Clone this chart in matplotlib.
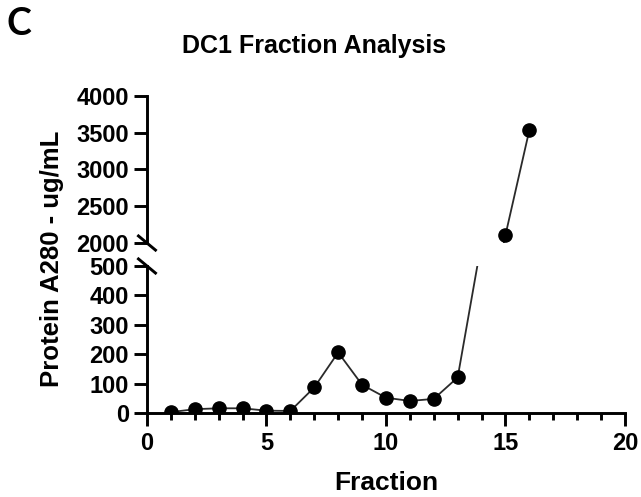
import numpy as np
import matplotlib.pyplot as plt
from matplotlib.lines import Line2D

# fraction number vs. protein concentration (A280, ug/mL)
fractions = [1, 2, 3, 4, 5, 6, 7, 8, 9, 10, 11, 12, 13, 14, 15, 16]
protein = [3, 13, 16, 16, 8, 7, 87, 206, 96, 52, 41, 48, 121, 582, 2109, 3537]

low_ticks = [0, 100, 200, 300, 400, 500]
high_ticks = [2000, 2500, 3000, 3500, 4000]
x_ticks = [0, 5, 10, 15, 20]

plt.rcParams['font.family'] = ['Liberation Sans', 'DejaVu Sans']
plt.rcParams['font.weight'] = 'bold'

fig = plt.figure(figsize=(6.41, 4.97), dpi=100)
ax_lo = fig.add_axes([0.2293, 0.169, 0.7457, 0.2958])
ax_hi = fig.add_axes([0.2293, 0.511, 0.7457, 0.296])

for ax in (ax_lo, ax_hi):
    ax.plot(fractions, protein, color='#2a2a2a', lw=1.3, marker='o', ms=9.5,
            mfc='black', mec='black', zorder=3)
    ax.set_xlim(0, 20)
    for s in ('top', 'right'):
        ax.spines[s].set_visible(False)
    ax.spines['left'].set_linewidth(2.1)
    ax.spines['bottom'].set_linewidth(2.1)
    ax.tick_params(axis='y', length=9.5, width=2.1, pad=3.5, labelsize=17)

ax_lo.set_ylim(0, 500)
ax_lo.set_yticks(low_ticks)
ax_lo.set_xticks(x_ticks)
ax_lo.set_xticks(np.arange(0, 21, 1), minor=True)
ax_lo.tick_params(axis='x', which='major', length=9.5, width=2.1, pad=4, labelsize=17)
ax_lo.tick_params(axis='x', which='minor', length=5, width=2.1)
ax_lo.set_yticklabels([str(t) for t in low_ticks], fontweight='bold')
ax_lo.set_xticklabels([str(t) for t in x_ticks], fontweight='bold')

ax_hi.set_ylim(2000, 4000)
ax_hi.set_yticks(high_ticks)
ax_hi.set_yticklabels([str(t) for t in high_ticks], fontweight='bold')
ax_hi.spines['bottom'].set_visible(False)
ax_hi.set_xticks([])

# diagonal break marks on the y axis
dx, dy = 0.0178, 0.048
ax_hi.add_line(Line2D([-dx, dx], [dy, -dy], transform=ax_hi.transAxes,
                      color='black', lw=2.1, clip_on=False))
ax_lo.add_line(Line2D([-dx, dx], [1 + dy, 1 - dy], transform=ax_lo.transAxes,
                      color='black', lw=2.1, clip_on=False))

fig.text(0.49, 0.908, 'DC1 Fraction Analysis', ha='center', va='center',
         fontsize=18, fontweight='bold')
fig.text(0.602, 0.028, 'Fraction', ha='center', va='center',
         fontsize=19, fontweight='bold')
fig.text(0.081, 0.479, 'Protein A280 - ug/mL', ha='center', va='center',
         rotation=90, fontsize=18.5, fontweight='bold')
fig.text(0.03, 0.952, 'C', ha='center', va='center', fontsize=27,
         fontweight='bold', family=['Lato', 'DejaVu Sans'])

fig.savefig('out.png', dpi=100)
